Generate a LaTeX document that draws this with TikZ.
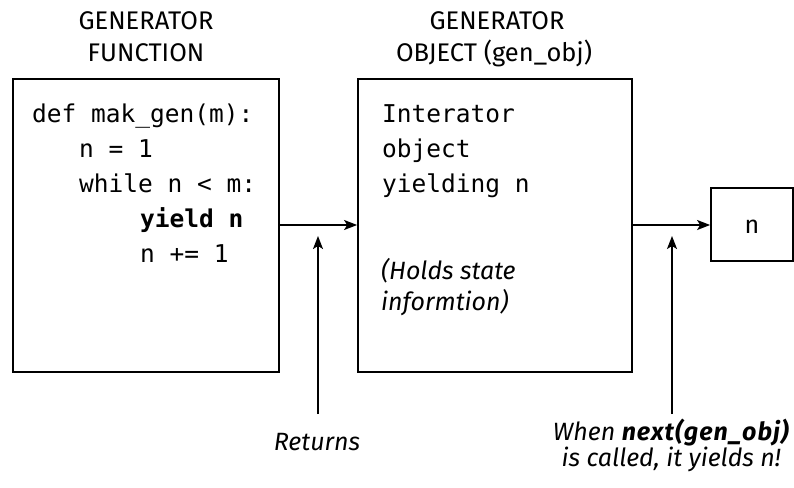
\documentclass[tikz,border=0pt]{standalone}
\usepackage{fontspec}
\setmainfont{Fira Sans}
\setmonofont{DejaVu Sans Mono}
\usetikzlibrary{arrows.meta}

\tikzset{
  box/.style={draw, line width=1.8pt, minimum width=#1, inner sep=0pt},
  arr/.style={line width=1.5pt, -{Stealth[length=13pt,width=10pt,inset=3pt]}},
  code/.style={anchor=base west, inner sep=0pt, font=\fontsize{24.5}{30}\selectfont\ttfamily},
  head/.style={anchor=base, inner sep=0pt, font=\fontsize{25.5}{30}\selectfont},
  note/.style={inner sep=0pt, font=\fontsize{25}{30}\selectfont\itshape},
}

\begin{document}
\begin{tikzpicture}[x=1pt, y=-1pt]
  \useasboundingbox (0,0) rectangle (794,487);

  % the three boxes
  \node[box=266pt, minimum height=293pt] (fun) at (146,225.5) {};
  \node[box=274pt, minimum height=293pt] (obj) at (495,225.5) {};
  \node[box=82pt,  minimum height=73pt]  (val) at (752,224.5) {};
  \node[anchor=base, inner sep=0pt, font=\fontsize{25}{30}\selectfont] (valtxt) at (752,233) {n};

  % headings
  \node[head] (h1a) at (146,30) {GENERATOR};
  \node[head] (h1b) at (146,62) {FUNCTION};
  \node[head] (h2a) at (497,30) {GENERATOR};
  \node[head] (h2b) at (494,62) {OBJECT (gen\_obj)};

  % generator function source
  \node[code] (c1) at (32,122)  {def mak\_gen(m):};
  \node[code] (c2) at (79,157)  {n = 1};
  \node[code] (c3) at (79,192)  {while n < m:};
  \node[code] (c4) at (140,227) {\bfseries yield n};
  \node[code] (c5) at (140,262) {n += 1};

  % generator object description
  \node[code] (o1) at (382,122) {Interator};
  \node[code] (o2) at (382,157) {object};
  \node[code] (o3) at (382,192) {yielding n};
  \node[note, anchor=base west] (o4) at (381,279) {(Holds state};
  \node[note, anchor=base west] (o5) at (381,310) {informtion)};

  % captions under the arrows
  \node[note, anchor=base] (ret) at (317,450) {Returns};
  \node[note, anchor=base east] (nx1) at (789,440)
    {When {\bfseries\addfontfeatures{LetterSpace=4}next(gen\_obj)}};
  \node[note, anchor=base east] (nx2) at (781,466) {is called, it yields n!};

  % connectors
  \draw[arr] (fun.east |- 0,225) -- (obj.west |- 0,225);
  \draw[arr] (obj.east |- 0,225) -- (val.west |- 0,225);

  \coordinate (rbase) at (318,414);
  \coordinate (rtip)  at (318,236);
  \coordinate (nbase) at (672,414);
  \coordinate (ntip)  at (672,236);
  \draw[arr] (rbase) -- (rtip);
  \draw[arr] (nbase) -- (ntip);
\end{tikzpicture}
\end{document}
